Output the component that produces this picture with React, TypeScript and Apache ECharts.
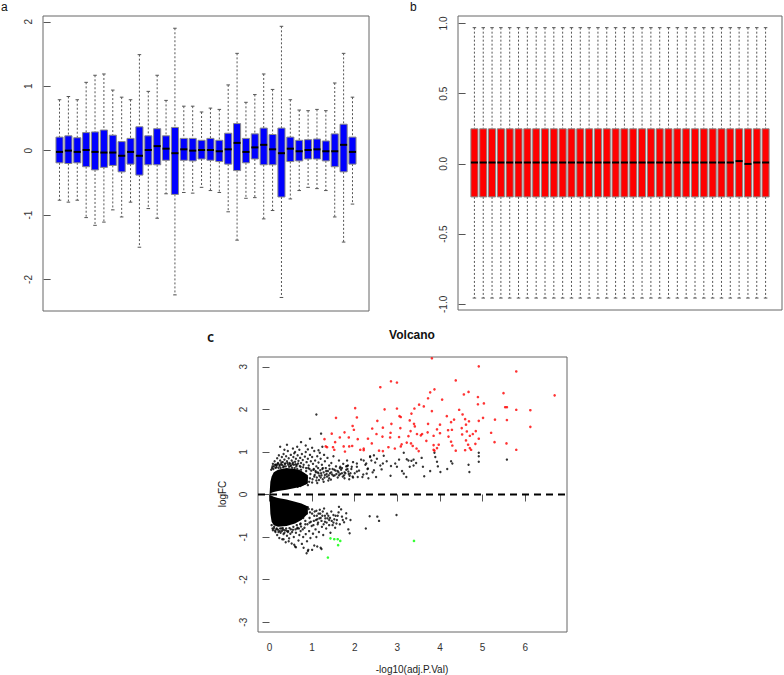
import React, { useEffect, useRef } from "react";
import * as echarts from "echarts";

// ---------- Panel a: boxplot (34 samples) ----------
const aWhiskerHigh = [0.79, 0.84, 0.79, 1.06, 1.17, 1.19, 0.94, 0.83, 0.79, 1.49, 0.92, 1.17, 0.78, 1.9, 0.69, 0.69, 0.6, 0.66, 0.64, 1.02, 1.51, 0.75, 0.87, 1.19, 0.95, 1.93, 0.79, 0.63, 0.62, 0.64, 0.62, 1.05, 1.51, 0.83];
const aQ3 = [0.21, 0.23, 0.2, 0.28, 0.29, 0.32, 0.24, 0.14, 0.19, 0.37, 0.23, 0.34, 0.23, 0.36, 0.19, 0.19, 0.16, 0.19, 0.16, 0.27, 0.42, 0.19, 0.26, 0.35, 0.25, 0.35, 0.21, 0.16, 0.17, 0.18, 0.15, 0.26, 0.41, 0.21];
const aMedian = [-0.02, 0.0, -0.02, 0.01, -0.02, -0.03, -0.03, -0.08, -0.02, -0.08, 0.01, 0.07, 0.03, -0.04, 0.02, 0.0, 0.01, 0.01, -0.01, 0.02, 0.12, -0.02, 0.05, 0.09, 0.02, -0.04, 0.03, -0.01, 0.01, 0.02, -0.01, -0.01, 0.09, -0.02];
const aQ1 = [-0.19, -0.2, -0.19, -0.25, -0.3, -0.26, -0.23, -0.33, -0.21, -0.38, -0.22, -0.22, -0.15, -0.68, -0.15, -0.16, -0.13, -0.15, -0.17, -0.21, -0.31, -0.19, -0.13, -0.22, -0.22, -0.72, -0.17, -0.16, -0.13, -0.13, -0.16, -0.25, -0.33, -0.21];
const aWhiskerLow = [-0.77, -0.8, -0.77, -1.04, -1.16, -1.11, -0.92, -1.03, -0.8, -1.5, -0.9, -1.05, -0.67, -2.24, -0.65, -0.66, -0.57, -0.62, -0.65, -0.95, -1.39, -0.74, -0.73, -1.06, -0.93, -2.28, -0.75, -0.62, -0.57, -0.59, -0.62, -1.03, -1.42, -0.83];
const aTicks = [-2, -1, 0, 1, 2];

// ---------- Panel b: normalized boxplot (34 samples) ----------
const bWhiskerHigh = [0.97, 0.97, 0.97, 0.97, 0.97, 0.97, 0.97, 0.97, 0.97, 0.97, 0.97, 0.97, 0.97, 0.97, 0.97, 0.97, 0.97, 0.97, 0.97, 0.97, 0.97, 0.97, 0.97, 0.97, 0.97, 0.97, 0.97, 0.97, 0.97, 0.97, 0.97, 0.97, 0.97, 0.97];
const bQ3 = [0.25, 0.25, 0.25, 0.25, 0.25, 0.25, 0.25, 0.25, 0.25, 0.25, 0.25, 0.25, 0.25, 0.25, 0.25, 0.25, 0.25, 0.25, 0.25, 0.25, 0.25, 0.25, 0.25, 0.25, 0.25, 0.25, 0.25, 0.25, 0.25, 0.25, 0.25, 0.25, 0.25, 0.25];
const bMedian = [0.01, 0.01, 0.01, 0.01, 0.01, 0.01, 0.01, 0.01, 0.01, 0.01, 0.01, 0.01, 0.01, 0.01, 0.01, 0.01, 0.01, 0.01, 0.01, 0.01, 0.01, 0.01, 0.01, 0.01, 0.01, 0.01, 0.01, 0.01, 0.01, 0.01, 0.02, 0.0, 0.01, 0.01];
const bQ1 = [-0.235, -0.235, -0.235, -0.235, -0.235, -0.235, -0.235, -0.235, -0.235, -0.235, -0.235, -0.235, -0.235, -0.235, -0.235, -0.235, -0.235, -0.235, -0.235, -0.235, -0.235, -0.235, -0.235, -0.235, -0.235, -0.235, -0.235, -0.235, -0.235, -0.235, -0.235, -0.235, -0.235, -0.235];
const bWhiskerLow = [-0.955, -0.955, -0.955, -0.955, -0.955, -0.955, -0.955, -0.955, -0.955, -0.955, -0.955, -0.955, -0.955, -0.955, -0.955, -0.955, -0.955, -0.955, -0.955, -0.955, -0.955, -0.955, -0.955, -0.955, -0.955, -0.955, -0.955, -0.955, -0.955, -0.955, -0.955, -0.955, -0.955, -0.955];
const bTicks = [-1, -0.5, 0, 0.5, 1];

// ---------- Panel c: volcano ----------
const cXTicks = [0, 1, 2, 3, 4, 5, 6];
const cYTicks = [-3, -2, -1, 0, 1, 2, 3];

// dense cores (envelopes of the solid black mass)
const coreX = [0, 0.02, 0.05, 0.1, 0.2, 0.4, 0.6, 0.75, 0.9];
const upperCoreTop = [0, 0.3, 0.42, 0.52, 0.58, 0.62, 0.6, 0.55, 0.45];
const upperCoreBottom = [0, 0.02, 0.04, 0.06, 0.08, 0.11, 0.15, 0.19, 0.26];
const lowerCoreTop = [0, -0.02, -0.03, -0.05, -0.08, -0.12, -0.17, -0.21, -0.28];
const lowerCoreBottom = [0, -0.45, -0.64, -0.72, -0.76, -0.74, -0.68, -0.6, -0.45];

const blackUpper = [
  [0.08, 0.72], [0.12, 0.78], [0.15, 0.7], [0.18, 0.85], [0.2, 0.74], [0.22, 0.92], [0.25, 0.8], [0.27, 0.71], [0.29, 0.88], [0.31, 0.76],
  [0.33, 0.95], [0.35, 0.82], [0.37, 0.73], [0.39, 0.9], [0.41, 0.78], [0.43, 1.02], [0.45, 0.85], [0.47, 0.74], [0.5, 0.93], [0.52, 0.8],
  [0.54, 0.72], [0.56, 0.88], [0.58, 0.97], [0.6, 0.77], [0.62, 0.84], [0.64, 0.7], [0.66, 0.92], [0.68, 0.79], [0.7, 1.05], [0.72, 0.86],
  [0.74, 0.74], [0.76, 0.95], [0.78, 0.81], [0.8, 0.7], [0.83, 0.89], [0.85, 1.0], [0.87, 0.76], [0.9, 0.84], [0.92, 0.68], [0.95, 0.93],
  [0.97, 0.78], [1.0, 0.88], [1.02, 0.72], [1.05, 1.02], [1.07, 0.8], [1.1, 0.66], [1.12, 0.9], [1.15, 0.75], [1.18, 0.98], [1.2, 0.84],
  [1.23, 0.7], [1.25, 0.62], [1.28, 0.93], [1.3, 0.78], [1.33, 0.55], [1.36, 0.86], [1.4, 0.68], [1.42, 0.5], [1.45, 0.74], [1.48, 0.6],
  [1.5, 0.9], [1.53, 0.45], [1.56, 0.66], [1.6, 0.55], [1.63, 0.8], [1.66, 0.48], [1.7, 0.62], [1.73, 0.72], [1.76, 0.52], [1.8, 0.58],
  [1.84, 0.68], [1.88, 0.44], [1.92, 0.6], [1.96, 0.76], [2.0, 0.5], [2.05, 0.65], [2.1, 0.56], [2.15, 0.82], [2.2, 0.47], [2.25, 0.7],
  [2.3, 0.6], [2.36, 0.9], [2.42, 0.52], [2.48, 0.75],
  [0.06, 0.62], [0.1, 0.66], [0.14, 0.63], [0.17, 0.68], [0.24, 0.67], [0.3, 0.69], [0.34, 0.66], [0.44, 0.7], [0.49, 0.67], [0.57, 0.7],
  [0.63, 0.66], [0.71, 0.67], [0.79, 0.64], [0.86, 0.62], [0.94, 0.6], [1.03, 0.58], [1.08, 0.55], [1.13, 0.52], [1.17, 0.44], [1.21, 0.5],
  [0.85, 0.3], [0.9, 0.22], [0.95, 0.38], [1.0, 0.28], [1.05, 0.42], [1.1, 0.33], [1.15, 0.5], [1.2, 0.4], [1.25, 0.36], [1.3, 0.46],
  [1.35, 0.42], [1.4, 0.38], [1.45, 0.52], [1.5, 0.44], [1.55, 0.56], [1.6, 0.4], [1.65, 0.62], [1.7, 0.5], [1.75, 0.45], [1.8, 0.66],
  [1.85, 0.54], [1.9, 0.5], [1.95, 0.42], [1.27, 0.3], [1.38, 0.33], [1.12, 0.27], [0.72, 0.2], [0.66, 0.18], [0.78, 0.24],
  [0.25, 1.12], [0.41, 1.17], [0.74, 1.23], [0.95, 1.31], [1.21, 1.43], [1.1, 1.88], [0.55, 1.08], [0.65, 1.12], [0.85, 1.15], [1.0, 1.1],
  [1.24, 1.12], [0.35, 1.05], [0.6, 1.0], [0.9, 1.06], [1.15, 1.04],
  [0.62, 0.5], [0.66, 0.3], [0.7, 0.42], [0.74, 0.58], [0.77, 0.35], [0.8, 0.48], [0.83, 0.26], [0.86, 0.55], [0.88, 0.4], [0.91, 0.62],
  [0.93, 0.3], [0.96, 0.48], [0.98, 0.56], [1.01, 0.36], [1.04, 0.6], [1.06, 0.46], [1.09, 0.52], [1.11, 0.4], [1.14, 0.62], [1.16, 0.34],
  [1.19, 0.57], [1.22, 0.45], [1.24, 0.6], [1.27, 0.52], [1.29, 0.4], [1.32, 0.62], [1.34, 0.48], [1.37, 0.55], [1.39, 0.45], [1.41, 0.6],
  [1.44, 0.35], [1.47, 0.47], [1.52, 0.58], [1.57, 0.48], [1.62, 0.52], [1.68, 0.58], [1.72, 0.42], [1.78, 0.5], [1.83, 0.6], [1.87, 0.36],
  [0.04, 0.58], [0.07, 0.66], [0.09, 0.6], [0.13, 0.7], [0.16, 0.64], [0.19, 0.72], [0.21, 0.63], [0.23, 0.7], [0.26, 0.62], [0.28, 0.75],
  [0.32, 0.64], [0.36, 0.72], [0.38, 0.66], [0.42, 0.74], [0.46, 0.65], [0.48, 0.72], [0.51, 0.68], [0.53, 0.63], [0.55, 0.75], [0.59, 0.62],
  [0.61, 0.71], [0.65, 0.6], [0.67, 0.73], [0.69, 0.56], [0.73, 0.65],
];
const blackSparse = [
  [2.39, 0.8], [2.6, 0.68], [2.85, 0.67], [3.04, 0.82], [3.22, 0.83], [3.11, 0.55], [3.15, 0.49], [3.29, 0.65], [3.38, 0.82], [3.44, 0.74],
  [3.15, 0.98], [3.26, 0.8], [3.33, 0.79], [3.38, 0.68], [3.21, 0.41], [3.57, 0.86], [3.6, 0.65], [3.63, 0.43], [3.77, 0.55], [3.87, 0.98],
  [3.89, 0.88], [3.93, 0.77], [3.95, 0.66], [4.01, 0.53], [4.17, 0.6], [4.26, 0.78], [4.29, 0.73], [4.67, 0.7], [4.69, 0.53], [4.91, 0.98],
  [4.91, 0.9], [4.91, 0.77], [5.57, 0.82], [2.63, 0.59], [2.84, 0.44], [2.45, 0.57], [2.28, 0.49], [2.18, 0.41], [2.05, 0.54], [1.96, 0.4],
  [1.86, 0.48], [1.76, 0.38], [1.63, 0.45], [1.66, 0.65], [1.82, 0.67], [1.93, 0.65], [2.05, 0.73], [2.21, 0.8], [2.36, 0.88], [2.52, 0.84],
  [2.27, 0.73], [2.66, 0.73], [2.75, 0.78], [2.95, 0.73], [2.99, 0.65], [2.31, 0.61], [2.45, 0.92], [2.68, 0.91], [2.32, 0.38], [2.5, 0.41],
  [2.07, 0.41], [1.82, 0.8],
];
const blackLower = [
  [0.1, -0.8], [0.14, -0.88], [0.18, -0.95], [0.2, -0.83], [0.23, -1.02], [0.26, -0.9], [0.28, -0.8], [0.3, -1.05], [0.33, -0.93], [0.36, -0.84],
  [0.38, -1.12], [0.41, -0.97], [0.44, -0.86], [0.46, -1.03], [0.49, -0.92], [0.52, -1.15], [0.55, -0.83], [0.57, -1.0], [0.6, -1.22], [0.62, -0.9],
  [0.65, -0.8], [0.68, -1.08], [0.7, -0.95], [0.73, -0.86], [0.76, -1.16], [0.79, -1.0], [0.82, -0.78], [0.85, -0.93], [0.88, -1.1], [0.9, -1.33],
  [0.93, -0.86], [0.96, -1.02], [0.99, -0.74], [1.02, -0.92], [1.05, -1.2], [1.08, -0.82], [1.1, -1.0], [1.13, -0.7], [1.16, -0.88], [1.2, -1.25],
  [1.23, -0.76], [1.26, -0.95], [1.3, -0.64], [1.33, -0.8], [1.36, -0.56], [1.4, -0.72], [1.43, -0.9], [1.46, -0.62], [1.5, -0.48], [1.54, -0.78],
  [1.58, -0.6], [1.63, -0.29], [1.62, -0.42], [1.65, -0.7], [1.7, -0.52], [1.75, -0.65], [1.8, -0.56], [1.85, -0.82], [1.88, -0.91], [2.26, -0.8],
  [2.35, -0.51], [2.53, -0.52], [2.57, -0.62], [2.98, -0.48], [1.0, -1.3], [0.8, -1.25], [0.58, -1.18], [0.62, -1.24], [1.22, -1.28], [0.87, -1.38],
  [0.91, -1.3], [1.12, -1.22], [0.45, -1.1], [0.33, -1.05],
  [0.9, -0.3], [0.95, -0.42], [1.0, -0.35], [1.05, -0.5], [1.1, -0.38], [1.15, -0.45], [1.2, -0.55], [1.25, -0.4], [1.3, -0.5], [1.35, -0.45],
  [1.4, -0.6], [1.45, -0.4], [1.5, -0.66], [1.55, -0.5], [1.68, -0.35], [1.72, -0.6], [1.8, -0.44], [1.9, -0.6],
  [0.08, -0.84], [0.16, -0.82], [0.24, -0.86], [0.32, -0.83], [0.4, -0.85], [0.5, -0.82], [0.66, -0.78], [0.74, -0.75], [0.84, -0.7], [0.94, -0.66],
  [1.04, -0.62], [1.12, -0.58], [1.18, -0.36], [1.28, -0.33],
  [0.62, -0.6], [0.66, -0.3], [0.7, -0.48], [0.73, -0.68], [0.76, -0.38], [0.79, -0.55], [0.82, -0.28], [0.84, -0.62], [0.87, -0.45], [0.89, -0.7],
  [0.92, -0.34], [0.94, -0.55], [0.97, -0.64], [1.0, -0.45], [1.03, -0.72], [1.06, -0.4], [1.09, -0.6], [1.11, -0.5], [1.14, -0.66], [1.17, -0.56],
  [1.19, -0.45], [1.22, -0.62], [1.24, -0.5], [1.27, -0.7], [1.31, -0.56], [1.34, -0.66], [1.38, -0.5], [1.42, -0.55], [1.48, -0.72], [1.52, -0.58],
  [1.57, -0.68], [1.6, -0.5],
  [0.05, -0.72], [0.07, -0.8], [0.11, -0.76], [0.13, -0.85], [0.17, -0.8], [0.21, -0.88], [0.25, -0.8], [0.29, -0.86], [0.31, -0.79], [0.35, -0.9],
  [0.39, -0.8], [0.43, -0.88], [0.47, -0.79], [0.53, -0.88], [0.56, -0.76], [0.61, -0.82], [0.64, -0.72], [0.69, -0.8], [0.72, -0.7], [0.78, -0.82],
];
const redPoints = [
  [3.81, 3.2], [4.91, 3.01], [5.79, 2.89], [2.85, 2.66], [2.99, 2.63], [4.37, 2.68], [2.6, 2.52], [3.87, 2.47], [3.77, 2.4], [4.67, 2.41],
  [4.56, 2.35], [5.49, 2.38], [6.69, 2.33], [4.89, 2.29], [3.72, 2.26], [4.05, 2.23], [5.03, 2.14], [4.89, 2.12], [3.51, 2.11], [3.62, 2.07],
  [2.01, 2.03], [2.99, 2.02], [2.7, 2.0], [3.4, 2.02], [5.53, 2.05], [5.57, 2.05], [4.45, 1.99], [5.79, 1.99], [6.12, 1.98], [3.81, 1.96],
  [3.33, 1.9], [4.53, 1.88], [4.16, 1.84], [3.05, 1.84], [3.08, 1.82], [1.56, 1.8], [2.05, 1.81], [5.01, 1.8], [4.59, 1.77], [5.29, 1.76],
  [4.33, 1.76], [3.29, 1.74], [5.57, 1.75], [2.53, 1.73], [4.91, 1.73], [4.26, 1.7], [4.68, 1.72], [2.86, 1.66], [3.39, 1.66], [3.72, 1.66],
  [4.0, 1.64], [4.61, 1.64], [3.41, 1.6], [1.95, 1.61], [6.12, 1.59], [3.07, 1.56], [2.66, 1.57], [2.41, 1.55], [4.51, 1.56], [3.93, 1.53],
  [1.98, 1.52], [4.19, 1.51], [4.28, 1.52], [3.31, 1.49], [4.63, 1.48], [4.84, 1.49], [3.71, 1.46], [5.2, 1.45], [2.84, 1.45], [4.0, 1.44],
  [1.76, 1.46], [3.46, 1.42], [3.58, 1.42], [4.77, 1.42], [4.52, 1.41], [2.51, 1.42], [1.46, 1.43], [3.85, 1.38], [4.7, 1.38], [3.26, 1.37],
  [4.2, 1.36], [3.04, 1.35], [2.65, 1.36], [4.91, 1.31], [1.65, 1.34], [1.86, 1.34], [1.29, 1.3], [2.31, 1.31], [2.07, 1.3], [4.61, 1.27],
  [3.68, 1.26], [4.26, 1.24], [5.56, 1.2], [5.28, 1.23], [3.22, 1.22], [3.32, 1.2], [3.1, 1.18], [1.54, 1.23], [2.4, 1.2], [3.97, 1.17],
  [3.36, 1.14], [3.85, 1.16], [4.83, 1.19], [4.66, 1.17], [4.29, 1.15], [1.94, 1.14], [1.87, 1.13], [1.32, 1.13], [1.35, 1.11], [1.74, 1.13],
  [1.49, 1.11], [2.79, 1.11], [2.94, 1.08], [3.45, 1.08], [3.93, 1.09], [4.7, 1.09], [2.21, 1.08], [2.13, 1.05], [1.52, 1.05], [3.85, 1.05],
  [4.73, 1.05], [5.79, 1.05], [4.37, 1.03], [2.57, 1.03], [2.66, 1.02], [4.59, 1.04], [3.87, 1.03], [3.5, 1.02], [2.21, 1.04], [1.77, 1.01],
  [3.08, 1.13], [3.55, 1.39], [2.83, 1.34],
];
const greenPoints = [
  [1.43, -1.03], [1.52, -1.05], [1.6, -1.05], [1.66, -1.09], [1.61, -1.19], [1.37, -1.48], [3.39, -1.09],
];
const cutoffLine = [[-0.27, 0], [6.98, 0]];

const FONT = "Liberation Sans, Arial, sans-serif";

function boxRenderer(fill: string) {
  return (params: any, api: any) => {
    const x = api.value(0);
    const pLow = api.coord([x, api.value(1)]);
    const pQ1 = api.coord([x, api.value(2)]);
    const pMed = api.coord([x, api.value(3)]);
    const pQ3 = api.coord([x, api.value(4)]);
    const pHigh = api.coord([x, api.value(5)]);
    const w = api.size([0.8, 0])[0];
    const cap = w * 0.5;
    const cx = pLow[0];
    const dash = { stroke: "#555", lineWidth: 1, lineDash: [2, 2] };
    const solid = { stroke: "#555", lineWidth: 1 };
    return {
      type: "group",
      children: [
        { type: "line", shape: { x1: cx, y1: pHigh[1], x2: cx, y2: pQ3[1] }, style: dash },
        { type: "line", shape: { x1: cx, y1: pQ1[1], x2: cx, y2: pLow[1] }, style: dash },
        { type: "line", shape: { x1: cx - cap / 2, y1: pHigh[1], x2: cx + cap / 2, y2: pHigh[1] }, style: solid },
        { type: "line", shape: { x1: cx - cap / 2, y1: pLow[1], x2: cx + cap / 2, y2: pLow[1] }, style: solid },
        { type: "rect", shape: { x: cx - w / 2, y: pQ3[1], width: w, height: pQ1[1] - pQ3[1] }, style: { fill, stroke: "#888", lineWidth: 1 } },
        { type: "line", shape: { x1: cx - w / 2, y1: pMed[1], x2: cx + w / 2, y2: pMed[1] }, style: { stroke: "#000", lineWidth: 2 } },
      ],
    };
  };
}

function coreRenderer(params: any, api: any) {
  const up: number[][] = [];
  const low: number[][] = [];
  for (let i = 0; i < coreX.length; i++) up.push(api.coord([coreX[i], upperCoreTop[i]]));
  for (let i = coreX.length - 1; i >= 0; i--) up.push(api.coord([coreX[i], upperCoreBottom[i]]));
  for (let i = 0; i < coreX.length; i++) low.push(api.coord([coreX[i], lowerCoreTop[i]]));
  for (let i = coreX.length - 1; i >= 0; i--) low.push(api.coord([coreX[i], lowerCoreBottom[i]]));
  return {
    type: "group",
    children: [
      { type: "polygon", shape: { points: up }, style: { fill: "#000" } },
      { type: "polygon", shape: { points: low }, style: { fill: "#000" } },
    ],
  };
}

function yAxisCfg(gridIndex: number, min: number, max: number, ticks: number[], fmt: (v: number) => string) {
  return {
    type: "value",
    gridIndex,
    min,
    max,
    axisLine: { show: false },
    axisTick: { show: true, length: 7, customValues: ticks, lineStyle: { color: "#555" } },
    axisLabel: {
      customValues: ticks,
      rotate: 90,
      margin: 10,
      fontSize: 10,
      fontFamily: FONT,
      color: "#333",
      formatter: (v: number) => fmt(v),
    },
    splitLine: { show: false },
  };
}

export default function App() {
  const ref = useRef<HTMLDivElement>(null);
  useEffect(() => {
    if (!ref.current) return;
    const chart = echarts.init(ref.current, undefined, { renderer: "svg" });
    const aData = aMedian.map((_, i) => [i + 1, aWhiskerLow[i], aQ1[i], aMedian[i], aQ3[i], aWhiskerHigh[i]]);
    const bData = bMedian.map((_, i) => [i + 1, bWhiskerLow[i], bQ1[i], bMedian[i], bQ3[i], bWhiskerHigh[i]]);
    const blackPoints = [...blackUpper, ...blackSparse, ...blackLower];
    const gridStyle = { show: true, borderColor: "#666", borderWidth: 1, backgroundColor: "transparent" };
    chart.setOption({
      animation: false,
      backgroundColor: "#fff",
      grid: [
        { left: 43, top: 16, width: 326, height: 295, ...gridStyle },
        { left: 458, top: 16, width: 324, height: 294, ...gridStyle },
        { left: 258, top: 357, width: 309, height: 275, ...gridStyle },
      ],
      xAxis: [
        { type: "value", gridIndex: 0, min: -0.86, max: 35.86, show: false },
        { type: "value", gridIndex: 1, min: -0.86, max: 35.86, show: false },
        {
          type: "value",
          gridIndex: 2,
          min: -0.27,
          max: 6.98,
          axisLine: { show: false },
          axisTick: { show: true, length: 7, customValues: cXTicks, lineStyle: { color: "#555" } },
          axisLabel: { customValues: cXTicks, margin: 10, fontSize: 10, fontFamily: FONT, color: "#333" },
          splitLine: { show: false },
        },
      ],
      yAxis: [
        yAxisCfg(0, -2.49, 2.09, aTicks, (v) => String(v)),
        yAxisCfg(1, -1.04, 1.053, bTicks, (v) => v.toFixed(1)),
        yAxisCfg(2, -3.23, 3.23, cYTicks, (v) => String(v)),
      ],
      graphic: [
        { type: "text", left: 1, top: 1, style: { text: "a", font: `12px ${FONT}`, fill: "#111" } },
        { type: "text", left: 410, top: 1, style: { text: "b", font: `12px ${FONT}`, fill: "#111" } },
        { type: "text", left: 207, top: 329, style: { text: "c", font: `600 14px Noto Sans, sans-serif`, fill: "#111" } },
        { type: "text", x: 412, y: 335, style: { text: "Volcano", font: `bold 12px ${FONT}`, fill: "#111", textAlign: "center", textVerticalAlign: "middle" } },
        { type: "text", x: 412, y: 669, style: { text: "-log10(adj.P.Val)", font: `10px ${FONT}`, fill: "#222", textAlign: "center", textVerticalAlign: "middle" } },
        { type: "text", x: 222, y: 494, rotation: Math.PI / 2, style: { text: "logFC", font: `10px ${FONT}`, fill: "#222", textAlign: "center", textVerticalAlign: "middle" } },
      ],
      series: [
        { type: "custom", xAxisIndex: 0, yAxisIndex: 0, renderItem: boxRenderer("#0000FF"), data: aData, encode: { x: 0, y: [1, 5] } },
        { type: "custom", xAxisIndex: 1, yAxisIndex: 1, renderItem: boxRenderer("#FF0000"), data: bData, encode: { x: 0, y: [1, 5] } },
        { type: "custom", xAxisIndex: 2, yAxisIndex: 2, renderItem: coreRenderer, data: [[0, 0]], clip: true },
        { type: "scatter", xAxisIndex: 2, yAxisIndex: 2, data: blackPoints, symbolSize: 2.4, itemStyle: { color: "#000" } },
        { type: "scatter", xAxisIndex: 2, yAxisIndex: 2, data: redPoints, symbolSize: 2.6, itemStyle: { color: "#FF0000" } },
        { type: "scatter", xAxisIndex: 2, yAxisIndex: 2, data: greenPoints, symbolSize: 2.6, itemStyle: { color: "#00FF00" } },
        {
          type: "line",
          xAxisIndex: 2,
          yAxisIndex: 2,
          data: cutoffLine,
          symbol: "none",
          lineStyle: { color: "#000", width: 2.2, type: [7, 5] },
        },
      ],
    });
    return () => chart.dispose();
  }, []);
  return <div ref={ref} style={{ position: "fixed", left: 0, top: 0, width: 784, height: 675, background: "#fff" }} />;
}
